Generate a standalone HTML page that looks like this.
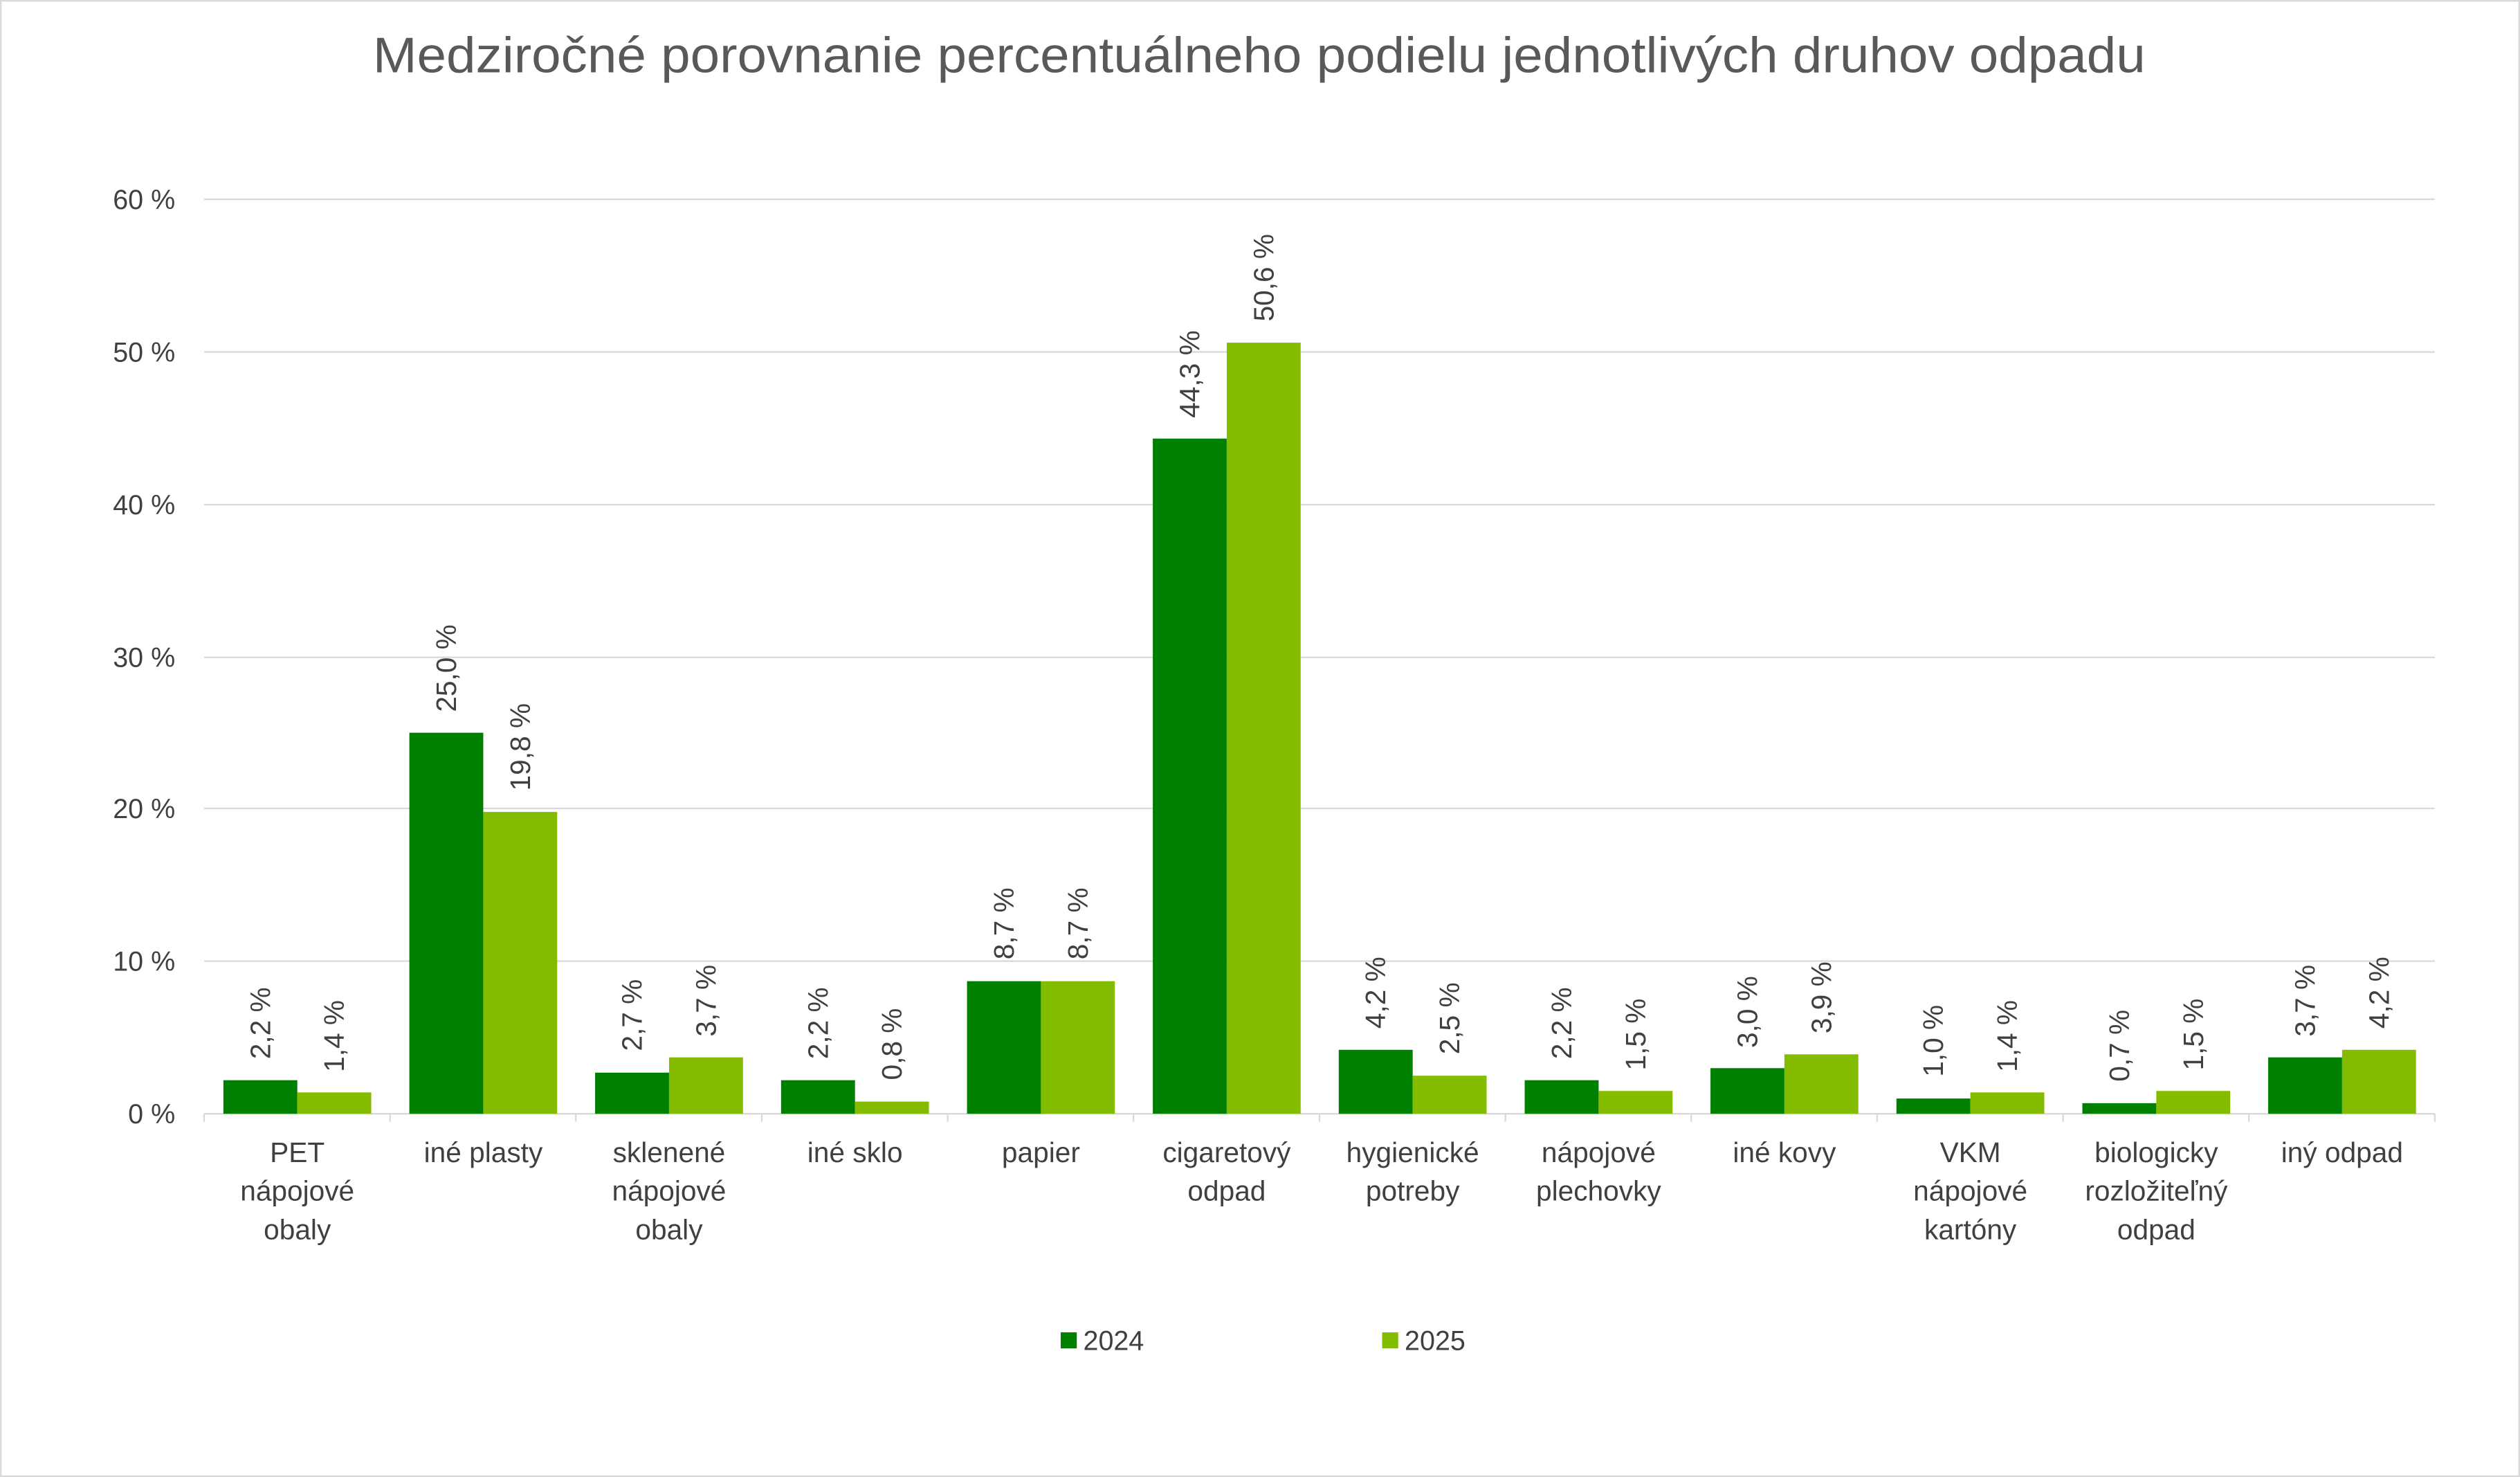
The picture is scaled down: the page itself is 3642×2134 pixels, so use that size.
<!DOCTYPE html>
<html><head><meta charset="utf-8"><style>
html,body{margin:0;padding:0;background:#fff}
svg{display:block}
text{font-family:"Liberation Sans",sans-serif;fill:#404040}
</style></head><body>
<svg width="3642" height="2134" viewBox="0 0 1568 919" preserveAspectRatio="none">
<rect x="0.5" y="0.5" width="1567" height="918" fill="#fff" stroke="#d9d9d9" stroke-width="1"/>
<text x="232" y="45" textLength="1103" lengthAdjust="spacingAndGlyphs" font-size="31" fill="#595959" style="fill:#595959">Medziročné porovnanie percentuálneho podielu jednotlivých druhov odpadu</text>
<g stroke="#d9d9d9" stroke-width="1">
<line x1="127" x2="1515" y1="124" y2="124"/>
<line x1="127" x2="1515" y1="219" y2="219"/>
<line x1="127" x2="1515" y1="314" y2="314"/>
<line x1="127" x2="1515" y1="409" y2="409"/>
<line x1="127" x2="1515" y1="503" y2="503"/>
<line x1="127" x2="1515" y1="598" y2="598"/>
<line x1="127" x2="1515" y1="693" y2="693"/>
<line x1="127" x2="127" y1="693" y2="698"/><line x1="242.7" x2="242.7" y1="693" y2="698"/><line x1="358.3" x2="358.3" y1="693" y2="698"/><line x1="474" x2="474" y1="693" y2="698"/><line x1="589.7" x2="589.7" y1="693" y2="698"/><line x1="705.3" x2="705.3" y1="693" y2="698"/><line x1="821" x2="821" y1="693" y2="698"/><line x1="936.7" x2="936.7" y1="693" y2="698"/><line x1="1052.3" x2="1052.3" y1="693" y2="698"/><line x1="1168" x2="1168" y1="693" y2="698"/><line x1="1283.7" x2="1283.7" y1="693" y2="698"/><line x1="1399.3" x2="1399.3" y1="693" y2="698"/><line x1="1515" x2="1515" y1="693" y2="698"/>
</g>
<g font-size="17" text-anchor="end">
<text x="109" y="130">60 %</text><text x="109" y="225">50 %</text><text x="109" y="320">40 %</text><text x="109" y="415">30 %</text><text x="109" y="509">20 %</text><text x="109" y="604">10 %</text><text x="109" y="699">0 %</text>
</g>
<g fill="#008000">
<rect x="139" y="672.1" width="46" height="20.9"/>
<rect x="254.7" y="455.9" width="46" height="237.1"/>
<rect x="370.3" y="667.4" width="46" height="25.6"/>
<rect x="486" y="672.1" width="46" height="20.9"/>
<rect x="601.7" y="610.5" width="46" height="82.5"/>
<rect x="717.3" y="272.9" width="46" height="420.1"/>
<rect x="833" y="653.2" width="46" height="39.8"/>
<rect x="948.7" y="672.1" width="46" height="20.9"/>
<rect x="1064.3" y="664.6" width="46" height="28.4"/>
<rect x="1180" y="683.5" width="46" height="9.5"/>
<rect x="1295.7" y="686.4" width="46" height="6.6"/>
<rect x="1411.3" y="657.9" width="46" height="35.1"/>
</g>
<g fill="#84bd00">
<rect x="185" y="679.7" width="46" height="13.3"/>
<rect x="300.7" y="505.2" width="46" height="187.8"/>
<rect x="416.3" y="657.9" width="46" height="35.1"/>
<rect x="532" y="685.4" width="46" height="7.6"/>
<rect x="647.7" y="610.5" width="46" height="82.5"/>
<rect x="763.3" y="213.2" width="46" height="479.8"/>
<rect x="879" y="669.3" width="46" height="23.7"/>
<rect x="994.7" y="678.8" width="46" height="14.2"/>
<rect x="1110.3" y="656" width="46" height="37"/>
<rect x="1226" y="679.7" width="46" height="13.3"/>
<rect x="1341.7" y="678.8" width="46" height="14.2"/>
<rect x="1457.3" y="653.2" width="46" height="39.8"/>
</g>
<g font-size="17.5" dominant-baseline="central">
<text transform="translate(162,659) rotate(-90)">2,2 %</text>
<text transform="translate(208,667) rotate(-90)">1,4 %</text>
<text transform="translate(277.7,443) rotate(-90)">25,0 %</text>
<text transform="translate(323.7,492) rotate(-90)">19,8 %</text>
<text transform="translate(393.3,654) rotate(-90)">2,7 %</text>
<text transform="translate(439.3,645) rotate(-90)">3,7 %</text>
<text transform="translate(509,659) rotate(-90)">2,2 %</text>
<text transform="translate(555,672) rotate(-90)">0,8 %</text>
<text transform="translate(624.7,597) rotate(-90)">8,7 %</text>
<text transform="translate(670.7,597) rotate(-90)">8,7 %</text>
<text transform="translate(740.3,260) rotate(-90)">44,3 %</text>
<text transform="translate(786.3,200) rotate(-90)">50,6 %</text>
<text transform="translate(856,640) rotate(-90)">4,2 %</text>
<text transform="translate(902,656) rotate(-90)">2,5 %</text>
<text transform="translate(971.7,659) rotate(-90)">2,2 %</text>
<text transform="translate(1017.7,666) rotate(-90)">1,5 %</text>
<text transform="translate(1087.3,652) rotate(-90)">3,0 %</text>
<text transform="translate(1133.3,643) rotate(-90)">3,9 %</text>
<text transform="translate(1203,670) rotate(-90)">1,0 %</text>
<text transform="translate(1249,667) rotate(-90)">1,4 %</text>
<text transform="translate(1318.7,673) rotate(-90)">0,7 %</text>
<text transform="translate(1364.7,666) rotate(-90)">1,5 %</text>
<text transform="translate(1434.3,645) rotate(-90)">3,7 %</text>
<text transform="translate(1480.3,640) rotate(-90)">4,2 %</text>
</g>
<g font-size="17.5" text-anchor="middle">
<text x="185" y="723">PET</text><text x="185" y="747">nápojové</text><text x="185" y="771">obaly</text>
<text x="300.7" y="723">iné plasty</text>
<text x="416.3" y="723">sklenené</text><text x="416.3" y="747">nápojové</text><text x="416.3" y="771">obaly</text>
<text x="532" y="723">iné sklo</text>
<text x="647.7" y="723">papier</text>
<text x="763.3" y="723">cigaretový</text><text x="763.3" y="747">odpad</text>
<text x="879" y="723">hygienické</text><text x="879" y="747">potreby</text>
<text x="994.7" y="723">nápojové</text><text x="994.7" y="747">plechovky</text>
<text x="1110.3" y="723">iné kovy</text>
<text x="1226" y="723">VKM</text><text x="1226" y="747">nápojové</text><text x="1226" y="771">kartóny</text>
<text x="1341.7" y="723">biologicky</text><text x="1341.7" y="747">rozložiteľný</text><text x="1341.7" y="771">odpad</text>
<text x="1457.3" y="723">iný odpad</text>
</g>
<rect x="660" y="829" width="10" height="10" fill="#008000"/>
<text x="674" y="840" font-size="17">2024</text>
<rect x="860" y="829" width="10" height="10" fill="#84bd00"/>
<text x="874" y="840" font-size="17">2025</text>
</svg>
</body></html>
